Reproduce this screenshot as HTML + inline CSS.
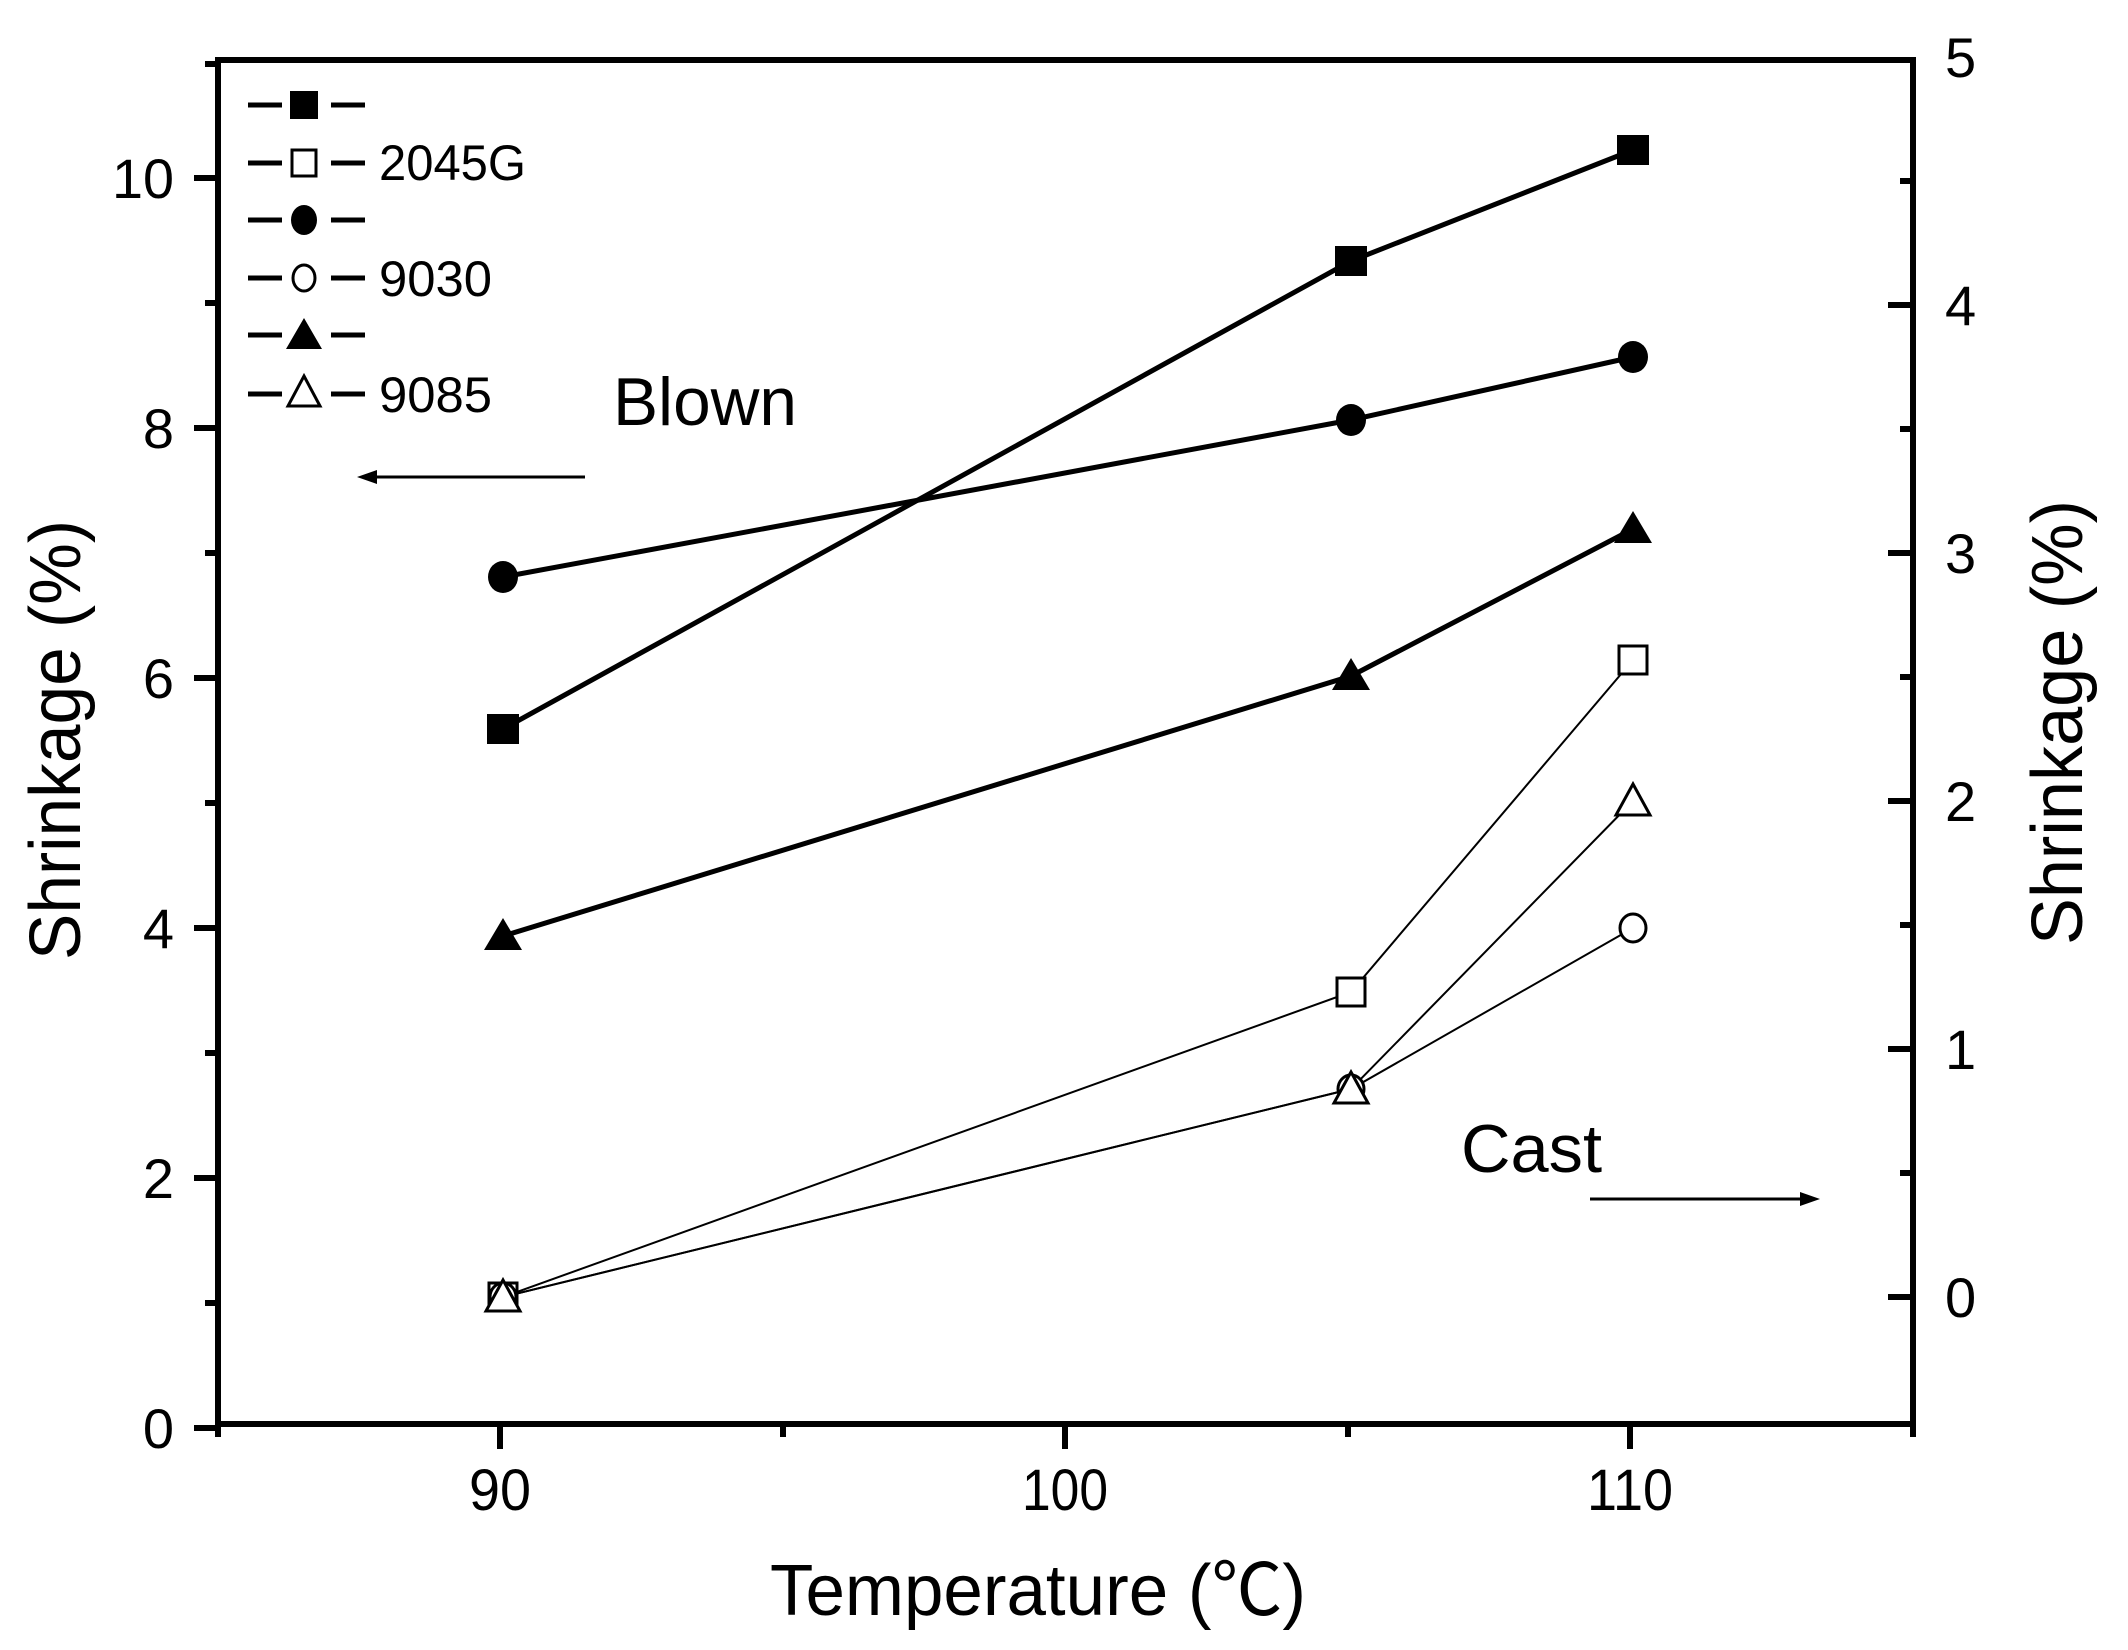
<!DOCTYPE html>
<html><head><meta charset="utf-8"><style>
html,body{margin:0;padding:0;background:#fff;}
svg{display:block;}
text{font-family:"Liberation Sans","Noto Sans CJK SC",sans-serif;fill:#000;}
</style></head><body>
<svg width="2128" height="1650" viewBox="0 0 2128 1650" xmlns="http://www.w3.org/2000/svg">
<rect width="2128" height="1650" fill="#fff"/>
<!-- axes box -->
<rect x="218" y="60" width="1695" height="1364" fill="none" stroke="#000" stroke-width="6"/>
<g stroke="#000" stroke-width="6">
<!-- left ticks outward -->
<line x1="194" y1="1428" x2="218" y2="1428"/>
<line x1="194" y1="1178" x2="218" y2="1178"/>
<line x1="194" y1="928" x2="218" y2="928"/>
<line x1="194" y1="678" x2="218" y2="678"/>
<line x1="194" y1="428" x2="218" y2="428"/>
<line x1="194" y1="178" x2="218" y2="178"/>
<line x1="205" y1="1303" x2="218" y2="1303"/>
<line x1="205" y1="1053" x2="218" y2="1053"/>
<line x1="205" y1="803" x2="218" y2="803"/>
<line x1="205" y1="553" x2="218" y2="553"/>
<line x1="205" y1="303" x2="218" y2="303"/>
<line x1="205" y1="64" x2="218" y2="64"/>
<!-- right ticks inward -->
<line x1="1888" y1="1297" x2="1913" y2="1297"/>
<line x1="1888" y1="1049" x2="1913" y2="1049"/>
<line x1="1888" y1="801" x2="1913" y2="801"/>
<line x1="1888" y1="553" x2="1913" y2="553"/>
<line x1="1888" y1="305" x2="1913" y2="305"/>
<line x1="1900" y1="1173" x2="1913" y2="1173"/>
<line x1="1900" y1="925" x2="1913" y2="925"/>
<line x1="1900" y1="677" x2="1913" y2="677"/>
<line x1="1900" y1="429" x2="1913" y2="429"/>
<line x1="1900" y1="181" x2="1913" y2="181"/>
<!-- bottom ticks -->
<line x1="500" y1="1424" x2="500" y2="1449"/>
<line x1="1065" y1="1424" x2="1065" y2="1449"/>
<line x1="1630" y1="1424" x2="1630" y2="1449"/>
<line x1="218" y1="1424" x2="218" y2="1437"/>
<line x1="783" y1="1424" x2="783" y2="1437"/>
<line x1="1348" y1="1424" x2="1348" y2="1437"/>
<line x1="1913" y1="1424" x2="1913" y2="1437"/>
</g>
<!-- left labels -->
<g font-size="56" text-anchor="end">
<text x="174" y="1448">0</text>
<text x="174" y="1198">2</text>
<text x="174" y="948">4</text>
<text x="174" y="698">6</text>
<text x="174" y="448">8</text>
<text x="174" y="198" textLength="62" lengthAdjust="spacingAndGlyphs">10</text>
</g>
<g font-size="56">
<text x="1945" y="1317">0</text>
<text x="1945" y="1069">1</text>
<text x="1945" y="821">2</text>
<text x="1945" y="573">3</text>
<text x="1945" y="325">4</text>
<text x="1945" y="77">5</text>
</g>
<g font-size="58" text-anchor="middle">
<text x="500" y="1510" textLength="62" lengthAdjust="spacingAndGlyphs">90</text>
<text x="1065" y="1510" textLength="86" lengthAdjust="spacingAndGlyphs">100</text>
<text x="1630" y="1510" textLength="86" lengthAdjust="spacingAndGlyphs">110</text>
</g>
<text x="770" y="1615" font-size="72" textLength="536" lengthAdjust="spacingAndGlyphs">Temperature (℃)</text>
<text transform="translate(80,960) rotate(-90)" font-size="72" textLength="440" lengthAdjust="spacingAndGlyphs">Shrinkage (%)</text>
<text transform="translate(2082,945) rotate(-90)" font-size="72" textLength="445" lengthAdjust="spacingAndGlyphs">Shrinkage (%)</text>
<!-- annotations -->
<text x="613" y="425" font-size="68" textLength="184" lengthAdjust="spacingAndGlyphs">Blown</text>
<line x1="585" y1="477" x2="370" y2="477" stroke="#000" stroke-width="3"/>
<polygon points="357,477 377,470 377,484" fill="#000"/>
<text x="1461" y="1172" font-size="68" textLength="141" lengthAdjust="spacingAndGlyphs">Cast</text>
<line x1="1590" y1="1199" x2="1805" y2="1199" stroke="#000" stroke-width="3"/>
<polygon points="1820,1199 1800,1192 1800,1206" fill="#000"/>
<!-- filled series (left axis) -->
<g stroke="#000" stroke-width="5" fill="none">
<polyline points="503,729 1351,261 1633,150"/>
<polyline points="503,577 1351,420 1633,357"/>
<polyline points="503,936 1351,676 1633,529"/>
</g>
<!-- open series (right axis) -->
<g stroke="#000" stroke-width="2" fill="none">
<polyline points="503,1297 1351,992 1633,660"/>
<polyline points="503,1297 1351,1089 1633,928"/>
<polyline points="503,1297 1351,1089 1633,801"/>
</g>
<g fill="#000">
<rect x="487" y="714" width="32" height="30"/><rect x="1335" y="246" width="32" height="30"/><rect x="1617" y="135" width="32" height="30"/>
<ellipse cx="503" cy="577" rx="15" ry="16"/><ellipse cx="1351" cy="420" rx="15" ry="16"/><ellipse cx="1633" cy="357" rx="15" ry="16"/>
<polygon points="503,918 522,950 484,950"/><polygon points="1351,658 1370,690 1332,690"/><polygon points="1633,511 1652,543 1614,543"/>
</g>
<g fill="#fff" stroke="#000" stroke-width="3">
<rect x="489" y="1283" width="28" height="28"/><rect x="1337" y="978" width="28" height="28"/><rect x="1619" y="646" width="28" height="28"/>
<ellipse cx="503" cy="1297" rx="13" ry="14"/><ellipse cx="1633" cy="928" rx="13" ry="14"/><ellipse cx="1351" cy="1089" rx="13" ry="14"/>
<polygon points="503,1280 520,1311 486,1311"/><polygon points="1351,1072 1368,1103 1334,1103"/><polygon points="1633,784 1650,815 1616,815"/>
</g>
<!-- legend -->
<g stroke="#000" stroke-width="5">
<line x1="248" y1="105" x2="282" y2="105"/><line x1="331" y1="105" x2="365" y2="105"/>
<line x1="248" y1="163" x2="282" y2="163"/><line x1="331" y1="163" x2="365" y2="163"/>
<line x1="248" y1="220" x2="282" y2="220"/><line x1="331" y1="220" x2="365" y2="220"/>
<line x1="248" y1="278" x2="282" y2="278"/><line x1="331" y1="278" x2="365" y2="278"/>
<line x1="248" y1="335" x2="282" y2="335"/><line x1="331" y1="335" x2="365" y2="335"/>
<line x1="248" y1="394" x2="282" y2="394"/><line x1="331" y1="394" x2="365" y2="394"/>
</g>
<rect x="290" y="91" width="28" height="28" fill="#000"/>
<rect x="292" y="150" width="24" height="26" fill="#fff" stroke="#000" stroke-width="3"/>
<ellipse cx="304" cy="220" rx="13" ry="15" fill="#000"/>
<ellipse cx="304" cy="278" rx="11" ry="13" fill="#fff" stroke="#000" stroke-width="3"/>
<polygon points="304,318 322,349 286,349" fill="#000"/>
<polygon points="304,376 320,406 288,406" fill="#fff" stroke="#000" stroke-width="3"/>
<g font-size="50">
<text x="379" y="180" textLength="147" lengthAdjust="spacingAndGlyphs">2045G</text>
<text x="379" y="296" textLength="113" lengthAdjust="spacingAndGlyphs">9030</text>
<text x="379" y="412" textLength="113" lengthAdjust="spacingAndGlyphs">9085</text>
</g>
</svg>
</body></html>
